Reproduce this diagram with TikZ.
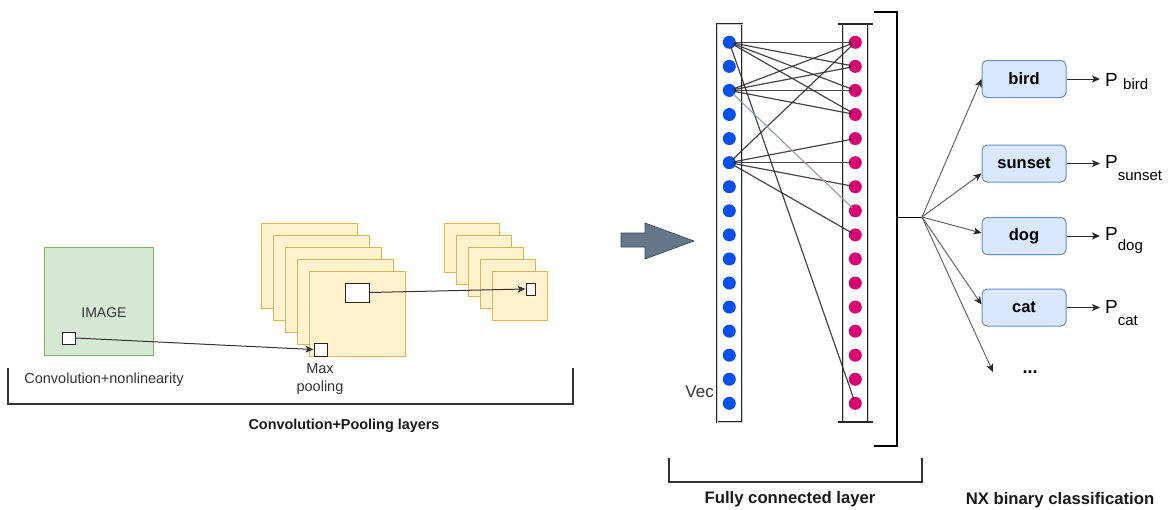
\documentclass[tikz,border=0pt]{standalone}
\usepackage{fontspec}
\setmainfont{Liberation Sans}
\usetikzlibrary{arrows.meta}
\newcommand\fsz[1]{\fontsize{#1}{#1}\selectfont}
\definecolor{imgfill}{HTML}{D5E8D4}
\definecolor{imgdraw}{HTML}{82B366}
\definecolor{mapfill}{HTML}{FFF2CC}
\definecolor{mapdraw}{HTML}{D6B656}
\definecolor{clsfill}{HTML}{DAE8FC}
\definecolor{clsdraw}{HTML}{6C8EBF}
\definecolor{inblue}{HTML}{0050EF}
\definecolor{outpink}{HTML}{D80073}
\definecolor{arrfill}{HTML}{647687}
\definecolor{arrdraw}{HTML}{314354}
\definecolor{edgeblue}{HTML}{8A9BAD}
\begin{document}
\begin{tikzpicture}[x=1pt,y=-1pt,
  fmap/.style={draw=mapdraw, fill=mapfill, line width=1pt},
  window/.style={rectangle, draw=black!85, fill=white, line width=1pt, inner sep=0pt},
  conn/.style={draw=black!80, line width=1pt, -{Stealth[length=8pt,width=7pt,inset=2pt]}},
  bracketline/.style={draw=black!80, line width=1.2pt},
  col/.style={draw=black!85, line width=0.8pt, double=black!20, double distance=1pt},
  bdot/.style={circle, fill=inblue, minimum size=13pt, inner sep=0pt},
  pdot/.style={circle, fill=outpink, minimum size=13pt, inner sep=0pt},
  edge/.style={draw=black!85, opacity=0.85, line width=1.2pt, shorten <=5pt, shorten >=4pt},
  clsbox/.style={rectangle, rounded corners=5pt, draw=clsdraw, fill=clsfill, line width=1pt,
    minimum width=84pt, minimum height=37pt, font=\fsz{16.5}\bfseries},
  fanarrow/.style={draw=black!60, line width=1pt, -{Stealth[length=8pt,width=7pt,inset=2pt,color=black!85]}},
  parrow/.style={draw=black!85, line width=1pt, -{Stealth[length=8pt,width=7pt,inset=2pt]}},
  plabel/.style={anchor=base west, inner xsep=5pt, inner ysep=0pt},
  gtext/.style={text=black!80, inner sep=0pt},
  btext/.style={text=black!90, inner sep=0pt}]

\path[use as bounding box] (0,0) rectangle (1169,509);

% ---------- input image ----------
\node[rectangle, draw=imgdraw, fill=imgfill, line width=1pt, minimum width=109pt, minimum height=108pt]
  (image) at (98.5,301) {};
\node[gtext, font=\fsz{14}] (imagetext) at (104,313) {IMAGE};
\node[window, minimum width=13pt, minimum height=12pt] (imgpatch) at (68.5,338) {};

% ---------- convolution feature maps ----------
\foreach \i in {0,...,4}
  \draw[fmap] ({261+12*\i},{223+12*\i}) rectangle ++(96,85);
\node[window, minimum width=24pt, minimum height=19pt] (poolwin) at (357,292.5) {};
\node[window, minimum width=13pt, minimum height=13pt] (mappatch) at (320.5,349.5) {};

% ---------- pooled feature maps ----------
\foreach \i in {0,...,4}
  \draw[fmap] ({444+12*\i},{223+12*\i}) rectangle ++(55,49);
\node[window, minimum width=9pt, minimum height=12pt] (poolout) at (530.5,289) {};

\draw[conn] (imgpatch.east) -- (mappatch.west);
\draw[conn] (poolwin.east) -- (poolout.west);

\node[gtext, font=\fsz{14.5}] (convlbl) at (104,380) {Convolution+nonlinearity};
\node[gtext, font=\fsz{14.5}, align=center] (poollbl) at (320,379) {Max\\[3pt]pooling};

\draw[bracketline] (8,368) -- (8,404) -- (573,404) -- (573,368);
\node[btext, font=\fsz{14.4}\bfseries] (convpoolbl) at (344,426) {Convolution+Pooling layers};

% ---------- flatten arrow ----------
\draw[fill=arrfill, draw=arrdraw, line width=0.6pt]
  (621,233) -- (645,233) -- (645,223) -- (694,241) -- (645,259) -- (645,247) -- (621,247) -- cycle;

% ---------- fully connected layer ----------
\draw[col] (717,24) rectangle (742,422);
\draw[col] (843,24) -- (843,422);
\draw[col] (868,24) -- (868,422);
\draw[line width=1.4pt, black!85] (838,24) -- (873,24);
\draw[line width=1.4pt, black!85] (838,422) -- (873,422);

\foreach \i in {1,...,16} {
  \node[bdot] (b\i) at (729.3,{42.3+24.07*(\i-1)}) {};
  \node[pdot] (p\i) at (855.3,{42.3+24.07*(\i-1)}) {};
}

\foreach \a/\b in {1/1,1/2,1/3,1/4,1/16,3/1,3/2,3/3,3/4,6/1,6/5,6/6,6/7,6/9}
  \draw[edge] (b\a.center) -- (p\b.center);
\draw[edge, draw=edgeblue, opacity=0.9] (b3.center) -- (p8.center);

\node[gtext, font=\fsz{17}, anchor=east] (veclbl) at (714,392) {Vec};

\draw[line width=2.6pt, black] (874,12) -- (897,12) -- (897,446) -- (874,446);

\draw[bracketline] (669,458) -- (669,482) -- (922,482) -- (922,458);
\node[btext, font=\fsz{16.7}\bfseries] (fclbl) at (790,499) {Fully connected layer};

% ---------- binary classifiers ----------
\coordinate (bk) at (897,217);
\coordinate (fan) at (922,217);
\draw[black, line width=1pt] (bk) -- (fan);

\node[clsbox] (bird) at (1024,79) {bird};
\node[clsbox] (sunset) at (1024,163.5) {sunset};
\node[clsbox] (dog) at (1024,236) {dog};
\node[clsbox] (cat) at (1024,307.5) {cat};
\coordinate (more) at (993,372);
\node[inner sep=0pt, font=\fsz{18}\bfseries] (ell) at (1030,372) {...};

\draw[fanarrow] (fan) -- (bird.west);
\draw[fanarrow] (fan) -- ([yshift=-10pt]sunset.west);
\draw[fanarrow] (fan) -- ([yshift=3pt]dog.west);
\draw[fanarrow] (fan) -- ([yshift=3pt]cat.west);
\draw[fanarrow] (fan) -- (more);

\node[plabel] (pbird) at (1100,86) {\fsz{19}P\ \raisebox{-3pt}{\fsz{15}bird}};
\node[plabel] (psunset) at (1100,168) {\fsz{19}P\raisebox{-12pt}{\fsz{15}sunset}};
\node[plabel] (pdog) at (1100,240) {\fsz{19}P\raisebox{-10pt}{\fsz{15}dog}};
\node[plabel] (pcat) at (1100,313) {\fsz{19}P\raisebox{-12pt}{\fsz{15}cat}};

\draw[parrow] (bird.east) -- (bird.east -| pbird.west);
\draw[parrow] (sunset.east) -- (sunset.east -| psunset.west);
\draw[parrow] (dog.east) -- (dog.east -| pdog.west);
\draw[parrow] (cat.east) -- (cat.east -| pcat.west);

\node[btext, font=\fsz{16.7}\bfseries] (nxlbl) at (1060,500) {NX binary classification};
\end{tikzpicture}
\end{document}
